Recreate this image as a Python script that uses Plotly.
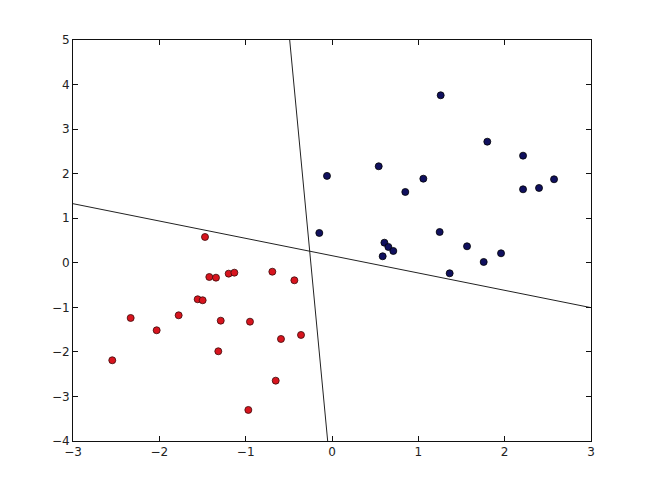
import plotly.graph_objects as go

# Class A (blue) points
blue_x = [-0.058, 0.541, 0.849, 1.058, 1.259, 1.799, 2.213, 2.213, 2.398, 2.572,
          -0.147, 1.247, 0.607, 0.653, 0.710, 0.587, 1.564, 1.958, 1.757, 1.363]
blue_y = [1.95, 2.166, 1.589, 1.887, 3.759, 2.718, 2.404, 1.649, 1.679, 1.874,
          0.669, 0.691, 0.451, 0.355, 0.265, 0.146, 0.37, 0.213, 0.018, -0.236]

# Class B (red) points
red_x = [-1.471, -1.421, -1.344, -1.197, -1.131, -0.691, -0.436, -1.556, -1.498, -2.332,
         -1.776, -2.031, -1.289, -0.950, -0.591, -0.359, -1.317, -2.545, -0.652, -0.969]
red_y = [0.579, -0.319, -0.334, -0.244, -0.222, -0.2, -0.393, -0.819, -0.841, -1.239,
         -1.179, -1.515, -1.299, -1.322, -1.71, -1.62, -1.986, -2.188, -2.646, -3.303]

# Separating lines (endpoints)
line1_x = [-3, 3]
line1_y = [1.326, -1.007]
line2_x = [-0.490, -0.050]
line2_y = [5, -4]

x_ticks = [-3, -2, -1, 0, 1, 2, 3]
y_ticks = [-4, -3, -2, -1, 0, 1, 2, 3, 4, 5]

fig = go.Figure()
fig.add_trace(go.Scatter(x=line1_x, y=line1_y, mode="lines",
                         line=dict(color="#222222", width=1), showlegend=False))
fig.add_trace(go.Scatter(x=line2_x, y=line2_y, mode="lines",
                         line=dict(color="#222222", width=1), showlegend=False))
fig.add_trace(go.Scatter(x=blue_x, y=blue_y, mode="markers",
                         marker=dict(color="#10105e", size=7,
                                     line=dict(color="#000000", width=0.8)),
                         showlegend=False))
fig.add_trace(go.Scatter(x=red_x, y=red_y, mode="markers",
                         marker=dict(color="#d8141e", size=7,
                                     line=dict(color="#3a0a0a", width=0.8)),
                         showlegend=False))

axis_common = dict(showgrid=False, zeroline=False, showline=True, linecolor="#111111",
                   linewidth=1, mirror="allticks", ticks="inside", ticklen=5,
                   tickcolor="#111111", tickfont=dict(family="DejaVu Sans", size=12, color="#222222"))
fig.update_xaxes(range=[-3, 3], tickvals=x_ticks, ticklabelstandoff=0, **axis_common)
fig.update_yaxes(range=[-4, 5], tickvals=y_ticks, ticklabelstandoff=0, **axis_common)

fig.update_layout(width=672, height=488, plot_bgcolor="white", paper_bgcolor="white",
                  margin=dict(l=65, r=89, t=32, b=55))

fig.write_html("out.html")
